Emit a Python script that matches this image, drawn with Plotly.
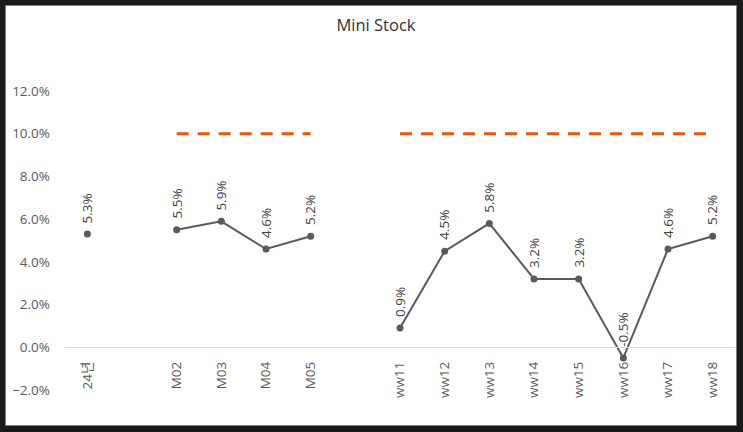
import plotly.graph_objects as go

categories = ["24년", " ", "M02", "M03", "M04", "M05", "  ",
              "ww11", "ww12", "ww13", "ww14", "ww15", "ww16", "ww17", "ww18"]
values = [0.053, None, 0.055, 0.059, 0.046, 0.052, None,
          0.009, 0.045, 0.058, 0.032, 0.032, -0.005, 0.046, 0.052]
target = [None, None, 0.10, 0.10, 0.10, 0.10, None,
          0.10, 0.10, 0.10, 0.10, 0.10, 0.10, 0.10, 0.10]
y_ticks = [-0.02, 0.0, 0.02, 0.04, 0.06, 0.08, 0.10, 0.12]

W, H = 743, 432
ML, MR, MT, MB = 65, 8, 91, 42
pw, ph = W - ML - MR, H - MT - MB

FONT = "Open Sans, Noto Sans CJK KR, sans-serif"
GREY = "#595959"

fig = go.Figure()
fig.add_trace(go.Scatter(
    x=categories, y=target, mode="lines",
    line=dict(color="#E8590C", width=3, dash="12px,9px"),
    connectgaps=False, hoverinfo="skip", showlegend=False))
fig.add_trace(go.Scatter(
    x=categories, y=values, mode="lines+markers",
    line=dict(color="#595961", width=2),
    marker=dict(color="#595961", size=7),
    connectgaps=False, showlegend=False))

for c, v in zip(categories, values):
    if v is None:
        continue
    fig.add_annotation(x=c, y=v, text=f"{v*100:.1f}%", textangle=-90,
                       showarrow=False, yanchor="bottom", xanchor="center",
                       yshift=9, xshift=0,
                       font=dict(family=FONT, size=13.5, color="#404040"))

def px_x(p):
    return (p - ML) / pw

def px_y(p):
    return (H - MB - p) / ph

fig.add_shape(type="rect", xref="paper", yref="paper",
              x0=px_x(5.5), x1=px_x(736.5), y0=px_y(425.5), y1=px_y(5.5),
              fillcolor="white", line=dict(color="#808080", width=1),
              layer="below")

zero_pos = (0 - y_ticks[0]) / (y_ticks[-1] - y_ticks[0])

fig.update_layout(
    width=W, height=H,
    margin=dict(l=ML, r=MR, t=MT, b=MB),
    paper_bgcolor="#1a1a1a",
    plot_bgcolor="rgba(0,0,0,0)",
    title=dict(text="Mini Stock", x=376 / W, xref="container", xanchor="center",
               y=1 - 25 / H, yref="container", yanchor="middle",
               font=dict(family=FONT, size=16.5, color="#333333")),
    xaxis=dict(type="category", categoryorder="array", categoryarray=categories,
               range=[-0.5, len(categories) - 0.5],
               anchor="free", position=zero_pos,
               showline=True, linecolor="#d9d9d9", linewidth=1,
               showgrid=False, zeroline=False, ticks="",
               tickangle=-90, ticklabelstandoff=8,
               tickfont=dict(family=FONT, size=13.5, color=GREY)),
    yaxis=dict(range=[y_ticks[0], y_ticks[-1]], tickvals=y_ticks,
               tickformat=".1%", showgrid=False, zeroline=False,
               showline=False, ticks="", ticklabelstandoff=14,
               tickfont=dict(family=FONT, size=13.5, color=GREY)),
)

fig.write_html("out.html")
